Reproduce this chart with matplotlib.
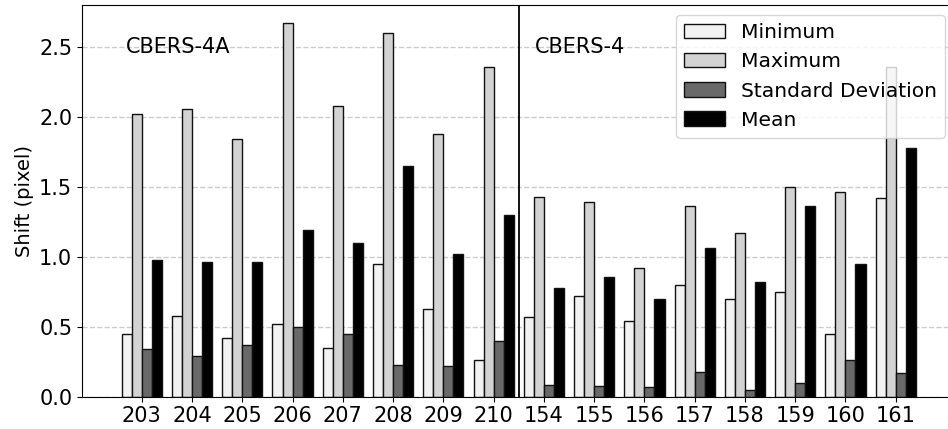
import numpy as np
import matplotlib
matplotlib.use("Agg")
import matplotlib.pyplot as plt

# Image IDs: CBERS-4A (first 8) and CBERS-4 (last 8)
scenes = ["203", "204", "205", "206", "207", "208", "209", "210",
          "154", "155", "156", "157", "158", "159", "160", "161"]

shift_min = [0.45, 0.58, 0.42, 0.52, 0.35, 0.95, 0.63, 0.26,
             0.57, 0.72, 0.54, 0.80, 0.70, 0.745, 0.45, 1.42]
shift_max = [2.02, 2.06, 1.84, 2.67, 2.08, 2.60, 1.88, 2.36,
             1.43, 1.39, 0.92, 1.36, 1.17, 1.50, 1.46, 2.36]
shift_std = [0.34, 0.29, 0.37, 0.50, 0.445, 0.23, 0.22, 0.40,
             0.085, 0.08, 0.07, 0.18, 0.05, 0.095, 0.26, 0.17]
shift_mean = [0.98, 0.96, 0.96, 1.19, 1.10, 1.65, 1.02, 1.30,
              0.78, 0.855, 0.70, 1.06, 0.82, 1.365, 0.95, 1.78]

series = [
    ("Minimum", shift_min, "#f2f2f2"),
    ("Maximum", shift_max, "#d3d3d3"),
    ("Standard Deviation", shift_std, "#696969"),
    ("Mean", shift_mean, "#000000"),
]

W, H = 948, 429
fig = plt.figure(figsize=(W / 100, H / 100), dpi=100)
# axes extends slightly past the right edge of the canvas
ax = fig.add_axes([82 / W, (H - 396.7) / H, (955.5 - 82) / W, (396.7 - 5) / H])

x = np.arange(len(scenes))
width = 0.2
offsets = [-0.3, -0.1, 0.1, 0.3]
for (label, vals, color), off in zip(series, offsets):
    ax.bar(x + off, vals, width, color=color, edgecolor="#111111",
           linewidth=1.0, label=label)

ax.axvline(7.5, color="black", linewidth=1.3)
ax.text(-0.32, 2.5, "CBERS-4A", fontsize=15, va="center", ha="left")
ax.text(7.82, 2.5, "CBERS-4", fontsize=15, va="center", ha="left")

ax.set_xlim(-1.19, 16.19)
ax.set_ylim(0, 2.8)
ax.set_xticks(x)
ax.set_xticklabels(scenes)
ax.set_yticks([0.0, 0.5, 1.0, 1.5, 2.0, 2.5])
ax.tick_params(axis="both", labelsize=15)
ax.set_ylabel("Shift (pixel)", fontsize=14)
ax.set_axisbelow(True)
ax.yaxis.grid(True, linestyle="--", color="#cccccc", linewidth=1.0)

ax.legend(loc="upper right", fontsize=14.6)

fig.savefig("out.png", dpi=100)
